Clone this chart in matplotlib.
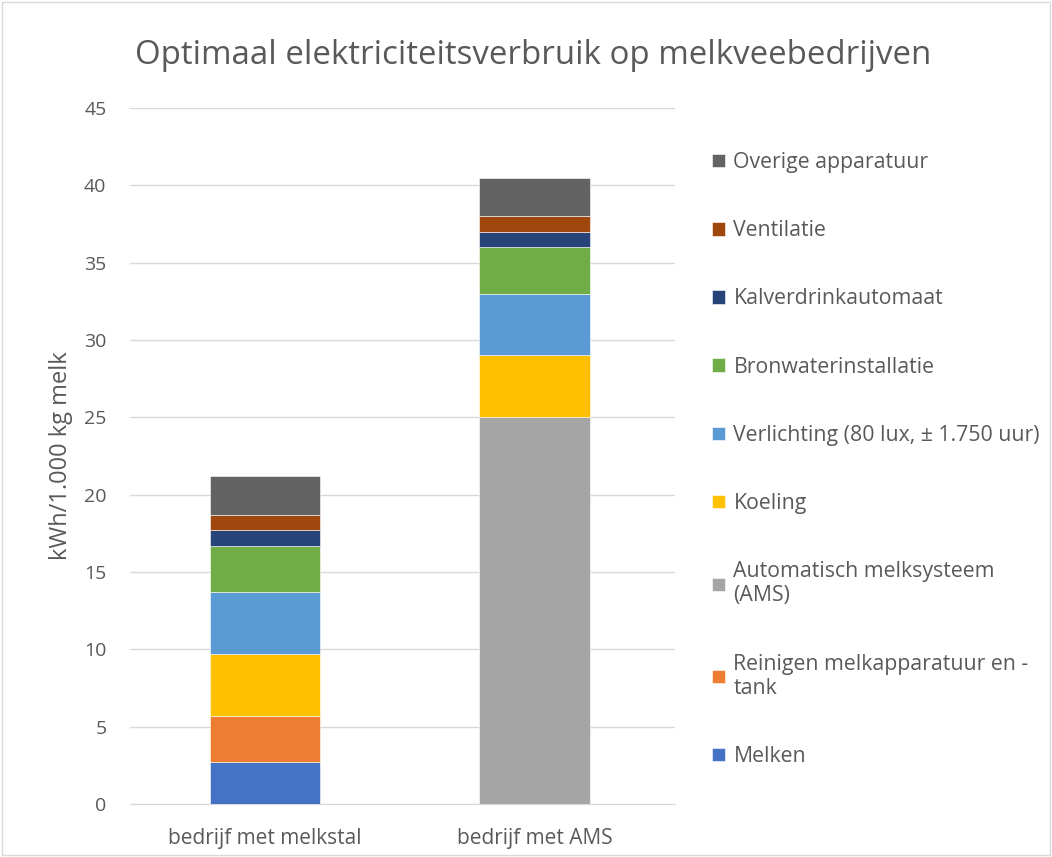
import matplotlib.pyplot as plt
import numpy as np
from matplotlib.patches import Rectangle

plt.rcParams['font.family'] = ['Open Sans', 'DejaVu Sans']

categories = ['bedrijf met melkstal', 'bedrijf met AMS']
series_names = ['Melken',
                'Reinigen melkapparatuur en -\ntank',
                'Automatisch melksysteem\n(AMS)',
                'Koeling',
                'Verlichting (80 lux, ± 1.750 uur)',
                'Bronwaterinstallatie',
                'Kalverdrinkautomaat',
                'Ventilatie',
                'Overige apparatuur']
melken = [2.7, 0]
reinigen = [3.0, 0]
ams = [0, 25.0]
koeling = [4.0, 4.0]
verlichting = [4.0, 4.0]
bronwater = [3.0, 3.0]
kalver = [1.0, 1.0]
ventilatie = [1.0, 1.0]
overige = [2.5, 2.5]
series_values = [melken, reinigen, ams, koeling, verlichting, bronwater, kalver, ventilatie, overige]
colors = ['#4472C4', '#ED7D31', '#A5A5A5', '#FFC000', '#5B9BD5',
          '#70AD47', '#264478', '#9E480E', '#636363']

text_color = '#595959'
grid_color = '#D9D9D9'

fig = plt.figure(figsize=(10.52, 8.57), dpi=100)
ax = fig.add_axes([130 / 1052, 1 - 804 / 857, 545 / 1052, 696 / 857])

x = np.arange(len(categories))
bottom = np.zeros(len(categories))
handles = []
for name, vals, col in zip(series_names, series_values, colors):
    vals = np.array(vals)
    b = ax.bar(x, vals, width=0.41, bottom=bottom, color=col, label=name,
               edgecolor='white', linewidth=0.4, zorder=3)
    handles.append(b)
    bottom += vals

ax.set_ylim(0, 45)
ax.set_xlim(-0.5, 1.52)
ax.set_yticks(np.arange(0, 46, 5))
ax.set_xticks(x)
ax.set_xticklabels(categories)
ax.tick_params(length=0, colors=text_color)
ax.tick_params(axis='x', pad=17, labelsize=15)
ax.tick_params(axis='y', pad=17, labelsize=14)
ax.yaxis.grid(True, color=grid_color, linewidth=1, zorder=0)
for s in ['top', 'right', 'left']:
    ax.spines[s].set_visible(False)
ax.spines['bottom'].set_color(grid_color)
ax.set_ylabel('kWh/1.000 kg melk', fontsize=17, color=text_color, labelpad=8)

fig.text(0.507, 1 - 56 / 857, 'Optimaal elektriciteitsverbruik op melkveebedrijven',
         ha='center', va='center', fontsize=23.8, color=text_color)

leg = fig.legend(handles[::-1], series_names[::-1], loc='upper left',
                 bbox_to_anchor=(693 / 1052, 1 - 133 / 857), frameon=False,
                 fontsize=15.3, labelcolor=text_color, handlelength=0.6,
                 handleheight=0.6, handletextpad=0.4, labelspacing=2.22)

fig.patches.append(Rectangle((0.002, 0.002), 0.996, 0.996, transform=fig.transFigure,
                             fill=False, edgecolor=grid_color, linewidth=1))

fig.savefig('out.png', dpi=100)
